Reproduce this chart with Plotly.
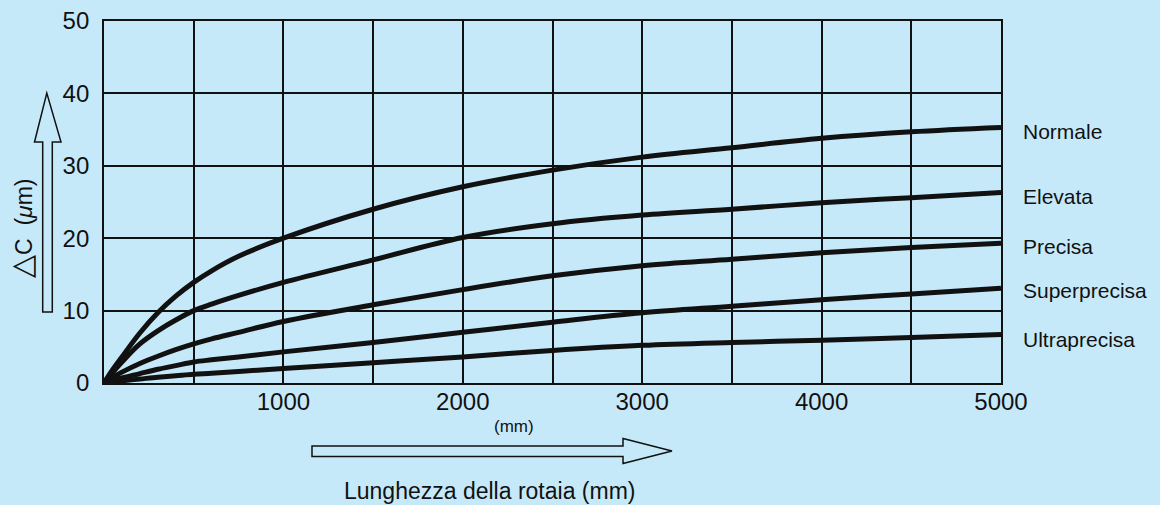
import plotly.graph_objects as go

# ---- data ----
x_mm = [0, 50, 100, 200, 300, 400, 500, 600, 750, 1000, 1500, 2000, 2500, 3000, 3500, 4000, 4500, 5000]
names = ["Normale", "Elevata", "Precisa", "Superprecisa", "Ultraprecisa"]
normale      = [0, 1.9, 3.6, 6.9, 9.7, 12.0, 13.9, 15.5, 17.5, 20.0, 24.0, 27.1, 29.4, 31.2, 32.5, 33.8, 34.7, 35.3]
elevata      = [0, 1.5, 2.9, 5.4, 7.2, 8.7, 10.0, 10.9, 12.1, 13.9, 17.0, 20.1, 22.0, 23.2, 24.0, 24.9, 25.6, 26.3]
precisa      = [0, 0.8, 1.5, 2.7, 3.7, 4.6, 5.4, 6.1, 7.0, 8.5, 10.8, 12.9, 14.8, 16.2, 17.1, 18.0, 18.7, 19.3]
superprecisa = [0, 0.35, 0.7, 1.3, 1.9, 2.4, 2.9, 3.2, 3.6, 4.3, 5.6, 7.0, 8.4, 9.7, 10.6, 11.5, 12.3, 13.1]
ultraprecisa = [0, 0.15, 0.3, 0.55, 0.8, 1.0, 1.2, 1.35, 1.6, 2.0, 2.8, 3.6, 4.5, 5.2, 5.6, 5.9, 6.3, 6.7]
series = [normale, elevata, precisa, superprecisa, ultraprecisa]

x_ticks = [1000, 2000, 3000, 4000, 5000]
y_ticks = [0, 10, 20, 30, 40, 50]
label_y_px = [131, 196, 246, 290, 339]   # label centre rows (pixels)

BG = "#c6e9fa"
INK = "#111111"
W, H = 1160, 505
L, R, T, B = 104, 1001, 21, 383


def px(x):
    return (x - L) / (R - L)


def py(y):
    return (B - y) / (B - T)


fig = go.Figure()
for name, vals in zip(names, series):
    fig.add_trace(go.Scatter(x=x_mm, y=vals, mode="lines", name=name,
                             line=dict(color=INK, width=5, shape="spline", smoothing=1.0),
                             showlegend=False, hoverinfo="x+y+name"))

tick_font = dict(family="Liberation Sans, Arial", size=24, color=INK)

fig.update_layout(
    width=W, height=H,
    paper_bgcolor=BG, plot_bgcolor=BG,
    margin=dict(l=L, r=W - R, t=T, b=H - B, autoexpand=False),
    xaxis=dict(range=[0, 5000], tickvals=x_ticks, ticktext=[str(v) for v in x_ticks],
               showgrid=True, gridcolor=INK, gridwidth=1.7,
               minor=dict(dtick=500, showgrid=True, gridcolor=INK, gridwidth=1.7),
               showline=True, linecolor=INK, linewidth=1.9, mirror=True,
               zeroline=False, ticks="", tickfont=tick_font, ticklabelstandoff=-4),
    yaxis=dict(range=[0, 50], tickvals=y_ticks, ticktext=[str(v) for v in y_ticks],
               showgrid=True, gridcolor=INK, gridwidth=1.7,
               showline=True, linecolor=INK, linewidth=1.9, mirror=True,
               zeroline=False, ticks="", tickfont=tick_font, ticklabelstandoff=8),
)

# series labels on the right
for name, ypx in zip(names, label_y_px):
    fig.add_annotation(x=px(1021), y=py(ypx), xref="paper", yref="paper", text=name,
                       showarrow=False, xanchor="left", yanchor="middle",
                       font=dict(family="Liberation Sans, Arial", size=21, color=INK))

# small (mm) under the axis
fig.add_annotation(x=px(514), y=py(427), xref="paper", yref="paper", text="(mm)",
                   showarrow=False, xanchor="center", yanchor="middle",
                   font=dict(family="Liberation Sans, Arial", size=17, color=INK))

# x axis title
fig.add_annotation(x=px(489), y=py(491), xref="paper", yref="paper",
                   text="Lunghezza della rotaia (mm)", showarrow=False,
                   xanchor="center", yanchor="middle",
                   font=dict(family="Liberation Sans, Arial", size=23, color=INK))

# y axis title (rotated)
fig.add_annotation(x=px(22), y=py(228), xref="paper", yref="paper",
                   text="<span style='font-size:30px'>△</span>C  (<i>μ</i>m)", showarrow=False,
                   textangle=-90, xanchor="center", yanchor="middle",
                   font=dict(family="Liberation Sans, Arial", size=23, color=INK))

# outlined arrows
def arrow_path(points):
    return "M " + " L ".join(f"{px(a):.5f},{py(b):.5f}" for a, b in points) + " Z"

h_arrow = [(312, 446), (623, 446), (623, 438.5), (672, 451), (623, 463.5), (623, 456.5), (312, 456.5)]
v_arrow = [(42.7, 312), (42.7, 142), (34.5, 142), (46.8, 93), (61, 142), (52.3, 142), (52.3, 312)]
for pts in (h_arrow, v_arrow):
    fig.add_shape(type="path", path=arrow_path(pts), xref="paper", yref="paper",
                  line=dict(color=INK, width=1.5), fillcolor=BG, layer="above")

fig.write_html("out.html", config={"displayModeBar": False},
               post_script="document.body.style.margin='0';document.body.style.background='" + BG + "';")
